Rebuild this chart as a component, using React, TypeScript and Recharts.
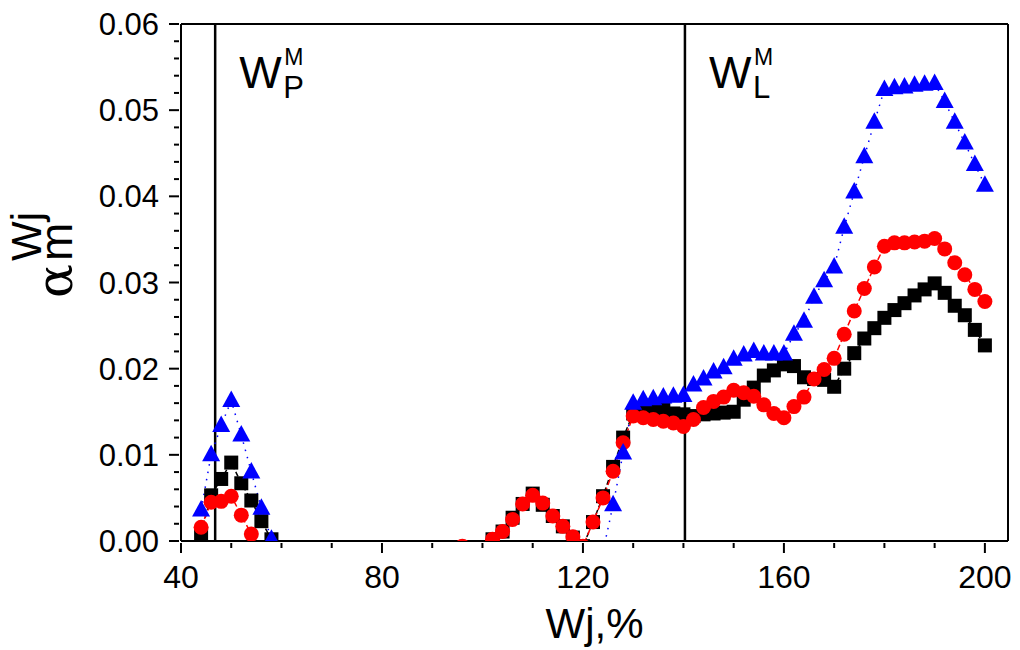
import { LineChart, Line, XAxis, YAxis, ReferenceLine, Label } from 'recharts';

// x positions of the measurements (Wj, %)
const wj = [
  44, 46, 48, 50, 52, 54, 56, 58,
  96, 98, 100,
  102, 104, 106, 108, 110, 112, 114, 116, 118, 120, 122, 124, 126, 128,
  130, 132, 134, 136, 138, 140, 142, 144, 146, 148, 150, 152, 154, 156, 158, 160,
  162, 164, 166, 168, 170, 172, 174, 176, 178, 180, 182, 184, 186, 188, 190,
  192, 194, 196, 198, 200,
];

// black squares
const squares = [
  0.0009, 0.0053, 0.0072, 0.0091, 0.0067, 0.0047, 0.0023, 0.0002,
  null, null, null,
  0.0002, 0.0011, 0.0027, 0.0043, 0.0055, 0.0042, 0.0029, 0.0017, 0.0004, -0.0006, 0.0022, 0.0052, 0.0086, 0.012,
  0.0148, 0.0153, 0.0154, 0.0153, 0.0148, 0.0147, 0.0145, 0.0147, 0.0148, 0.0149, 0.015, 0.0164, 0.0178, 0.0192, 0.0198, 0.0205,
  0.0203, 0.019, 0.0188, 0.0187, 0.0179, 0.02, 0.0218, 0.0235, 0.0247, 0.0259, 0.0268, 0.0276, 0.0285, 0.0292, 0.0299,
  0.0288, 0.0273, 0.0262, 0.0245, 0.0227,
];

// red circles
const circles = [
  0.0016, 0.0045, 0.0046, 0.0052, 0.003, 0.0008, null, null,
  -0.0006, null, null,
  0.0002, 0.0011, 0.0025, 0.0043, 0.0053, 0.0044, 0.0029, 0.0017, 0.0005, -0.0006, 0.0022, 0.005, 0.0081, 0.0114,
  0.0145, 0.0143, 0.0141, 0.0139, 0.0137, 0.0133, 0.0141, 0.0155, 0.0162, 0.0167, 0.0175, 0.0172, 0.0168, 0.0158, 0.0148, 0.0143,
  0.0156, 0.0167, 0.0188, 0.0199, 0.0212, 0.024, 0.0267, 0.0293, 0.0318, 0.0342, 0.0346, 0.0346, 0.0347, 0.0348, 0.0351,
  0.0339, 0.0323, 0.0309, 0.0292, 0.0278,
];

// blue triangles
const triangles = [
  0.0036, 0.01, 0.0134, 0.0163, 0.0123, 0.008, 0.0038, 0.0002,
  null, null, null,
  null, null, null, null, null, null, null, null, null, null, null, -0.0012, 0.0042, 0.0102,
  0.016, 0.0164, 0.0165, 0.0167, 0.0168, 0.0169, 0.0181, 0.0188, 0.0196, 0.0201, 0.0211, 0.0216, 0.022, 0.0217, 0.0217, 0.0217,
  0.024, 0.0255, 0.0283, 0.0302, 0.0318, 0.0364, 0.0405, 0.0446, 0.0486, 0.0524, 0.0526, 0.0527, 0.0529, 0.053, 0.0531,
  0.051, 0.0486, 0.0462, 0.0437, 0.0413,
];

const xTicks = [40, 50, 60, 70, 80, 90, 100, 110, 120, 130, 140, 150, 160, 170, 180, 190, 200];
const xMajor = [40, 80, 120, 160, 200];
const yTicks = [
  0, 0.002, 0.004, 0.006, 0.008, 0.01, 0.012, 0.014, 0.016, 0.018, 0.02, 0.022, 0.024, 0.026, 0.028, 0.03,
  0.032, 0.034, 0.036, 0.038, 0.04, 0.042, 0.044, 0.046, 0.048, 0.05, 0.052, 0.054, 0.056, 0.058, 0.06,
];

const X_MAX = 204.6;
const W_P = 46.8;
const W_L = 140.3;

const data = wj.map((x, i) => ({ x, sq: squares[i], ci: circles[i], tr: triangles[i] }));

const font = '"Liberation Sans", Arial, sans-serif';

const XTick = ({ x, y, payload }: any) => {
  const major = xMajor.includes(payload.value);
  return (
    <g>
      <line x1={x} x2={x} y1={y} y2={y + (major ? 10 : 5)} stroke="#000" strokeWidth={2} />
      {major && (
        <text x={x} y={y + 45} textAnchor="middle" fontSize={32} fontFamily={font} fill="#000">
          {payload.value}
        </text>
      )}
    </g>
  );
};

const YTick = ({ x, y, payload }: any) => {
  const v = payload.value;
  const major = Math.abs(v * 100 - Math.round(v * 100)) < 1e-6;
  return (
    <g>
      <line x1={x - (major ? 10 : 5)} x2={x} y1={y} y2={y} stroke="#000" strokeWidth={2} />
      {major && (
        <text x={x - 20} y={y + 11} textAnchor="end" fontSize={31} fontFamily={font} fill="#000">
          {v.toFixed(2)}
        </text>
      )}
    </g>
  );
};

const Square = ({ cx, cy }: any) => {
  if (cx == null || cy == null) return null;
  return <rect x={cx - 7} y={cy - 7} width={14} height={14} fill="#000" />;
};

const Circle = ({ cx, cy }: any) => {
  if (cx == null || cy == null) return null;
  return <circle cx={cx} cy={cy} r={7.5} fill="#ff0000" />;
};

const Triangle = ({ cx, cy }: any) => {
  if (cx == null || cy == null) return null;
  return <polygon points={`${cx},${cy - 10} ${cx - 9},${cy + 6.5} ${cx + 9},${cy + 6.5}`} fill="#0000ff" />;
};

const WLabel = ({ viewBox, sub }: any) => {
  const vx = viewBox.x;
  return (
    <g fontFamily={font} fill="#000">
      <text x={vx + 24} y={88} fontSize={45}>W</text>
      <text x={vx + 69} y={65} fontSize={23}>M</text>
      <text x={vx + 68} y={98} fontSize={31}>{sub}</text>
    </g>
  );
};

const YTitle = () => (
  <g transform="translate(72, 298) rotate(-90)" fill="#000">
    <text x={0} y={0} fontSize={50} fontFamily='"DejaVu Serif", serif'>α</text>
    <text x={37} y={0} fontSize={46} fontFamily={font}>m</text>
    <text x={37} y={-31} fontSize={42} fontFamily={font}>Wj</text>
  </g>
);

export default function App() {
  return (
    <div style={{ position: 'absolute', left: 0, top: 0, width: 1020, height: 650, background: '#fff' }}>
      <LineChart width={1020} height={650} data={data} margin={{ top: 24, right: 12, left: 0, bottom: 0 }}>
        <XAxis
          dataKey="x"
          type="number"
          domain={[40, X_MAX]}
          ticks={xTicks}
          interval={0}
          tick={<XTick />}
          tickLine={false}
          tickSize={0}
          height={109}
          allowDataOverflow
          axisLine={{ stroke: '#000', strokeWidth: 2 }}
        >
          <Label
            value="Wj,%"
            position="insideBottom"
            offset={12}
            fontSize={42}
            fontFamily={font}
            fill="#000"
          />
        </XAxis>
        <YAxis
          type="number"
          domain={[0, 0.06]}
          ticks={yTicks}
          interval={0}
          tick={<YTick />}
          tickLine={false}
          tickSize={0}
          width={181}
          allowDataOverflow
          axisLine={{ stroke: '#000', strokeWidth: 2 }}
          label={<YTitle />}
        />
        <ReferenceLine y={0.06} stroke="#000" strokeWidth={2} />
        <ReferenceLine x={X_MAX} stroke="#000" strokeWidth={2} />
        <ReferenceLine x={W_P} stroke="#000" strokeWidth={2.5} label={<WLabel sub="P" />} />
        <ReferenceLine x={W_L} stroke="#000" strokeWidth={2.5} label={<WLabel sub="L" />} />
        <Line
          dataKey="sq"
          stroke="#000"
          strokeWidth={1.5}
          strokeDasharray="5 3"
          dot={<Square />}
          activeDot={false}
          isAnimationActive={false}
        />
        <Line
          dataKey="ci"
          stroke="#ff0000"
          strokeWidth={1.5}
          strokeDasharray="6 3"
          dot={<Circle />}
          activeDot={false}
          isAnimationActive={false}
        />
        <Line
          dataKey="tr"
          stroke="#0000ff"
          strokeWidth={1.5}
          strokeDasharray="1.5 6"
          dot={<Triangle />}
          activeDot={false}
          isAnimationActive={false}
        />
      </LineChart>
    </div>
  );
}
